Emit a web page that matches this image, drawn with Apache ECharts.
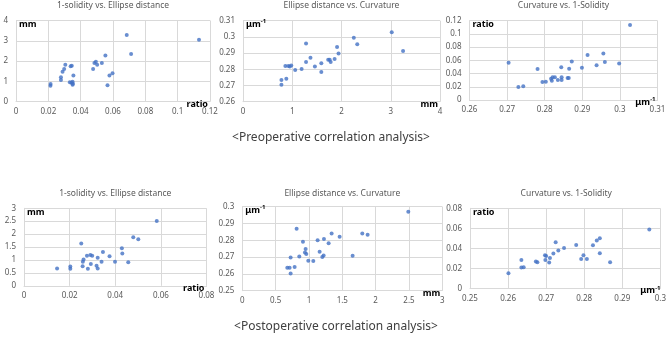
<!DOCTYPE html>
<html><head><meta charset="utf-8">
<script src="https://cdn.jsdelivr.net/npm/echarts@6/dist/echarts.min.js"></script>
<style>html,body{margin:0;padding:0;background:#fff}#c{width:669px;height:339px}</style>
</head><body><div id="c"></div><script>
// ---- Data ----
// Preoperative
const preSolidityVsEllipse = [[0.0214,0.87],[0.0213,0.78],[0.0278,1.20],[0.0278,1.06],[0.0288,1.47],[0.0298,1.60],[0.0305,1.82],[0.0338,1.74],[0.0345,1.77],[0.0333,0.95],[0.0343,0.93],[0.0350,0.97],[0.0352,0.88],[0.0350,0.83],[0.0355,1.28],[0.0477,1.60],[0.0485,1.90],[0.0494,1.96],[0.0502,1.82],[0.0531,1.90],[0.0553,2.27],[0.0566,0.80],[0.0578,1.29],[0.0597,1.39],[0.0685,3.28],[0.0712,2.35],[0.1132,3.05]];
const preEllipseVsCurvature = [[0.78,0.2734],[0.78,0.2705],[0.88,0.2742],[0.86,0.2820],[0.92,0.2820],[0.95,0.2817],[0.98,0.2824],[1.06,0.2795],[1.19,0.2802],[1.28,0.2845],[1.28,0.2960],[1.37,0.2872],[1.46,0.2818],[1.59,0.2837],[1.59,0.2783],[1.73,0.2859],[1.76,0.2859],[1.78,0.2845],[1.86,0.2863],[1.91,0.2937],[1.94,0.2898],[2.25,0.2995],[2.32,0.2954],[3.02,0.3028],[3.25,0.2913]];
const preCurvatureVsSolidity = [[0.2704,0.0564],[0.2730,0.0196],[0.2743,0.0207],[0.2781,0.0469],[0.2794,0.0272],[0.2803,0.0277],[0.2817,0.0322],[0.2821,0.0343],[0.2827,0.0343],[0.2819,0.0292],[0.2835,0.0302],[0.2844,0.0494],[0.2845,0.0343],[0.2845,0.0302],[0.2861,0.0332],[0.2864,0.0332],[0.2865,0.0474],[0.2872,0.0584],[0.2899,0.0489],[0.2914,0.0680],[0.2938,0.0524],[0.2956,0.0705],[0.2960,0.0574],[0.2998,0.0554],[0.3027,0.1134]];
// Postoperative
const postSolidityVsEllipse = [[0.0145,0.67],[0.0203,0.75],[0.0203,0.66],[0.0251,1.64],[0.0258,0.93],[0.0261,1.02],[0.0257,0.76],[0.0276,1.16],[0.0280,0.66],[0.0291,1.19],[0.0299,1.16],[0.0293,0.84],[0.0318,0.78],[0.0323,1.09],[0.0323,0.67],[0.0340,0.93],[0.0346,1.31],[0.0375,1.14],[0.0399,0.93],[0.0429,1.45],[0.0431,1.25],[0.0457,0.91],[0.0479,1.88],[0.0501,1.80],[0.0582,2.51]];
const postEllipseVsCurvature = [[0.675,0.2637],[0.71,0.2637],[0.725,0.2603],[0.725,0.2698],[0.785,0.2641],[0.815,0.2869],[0.855,0.2704],[0.91,0.2792],[0.95,0.2748],[0.94,0.2728],[0.96,0.2718],[0.99,0.2679],[1.065,0.2677],[1.13,0.2800],[1.16,0.2732],[1.20,0.2700],[1.22,0.2710],[1.225,0.2808],[1.295,0.2782],[1.34,0.2841],[1.46,0.2821],[1.655,0.2708],[1.80,0.2841],[1.88,0.2833],[2.49,0.2970]];
const postCurvatureVsSolidity = [[0.2601,0.0150],[0.2635,0.0283],[0.2635,0.0207],[0.2641,0.0210],[0.2673,0.0267],[0.2677,0.0260],[0.2697,0.0330],[0.2700,0.0323],[0.2698,0.0283],[0.2708,0.0257],[0.2710,0.0303],[0.2719,0.0347],[0.2725,0.0460],[0.2732,0.0377],[0.2747,0.0403],[0.2779,0.0433],[0.2792,0.0293],[0.2798,0.0330],[0.2807,0.0293],[0.2823,0.0430],[0.2833,0.0477],[0.2841,0.0500],[0.2841,0.0350],[0.2868,0.0260],[0.2971,0.0587]];

const chartTitles = ["1-solidity vs. Ellipse distance","Ellipse distance vs. Curvature","Curvature vs. 1-Solidity","1-solidity vs. Ellipse distance","Ellipse distance vs. Curvature","Curvature vs. 1-Solidity"];
const captions = ["<Preoperative correlation analysis>","<Postoperative correlation analysis>"];
// axis ranges [min, max, interval]
const xRanges = [[0,0.12,0.02],[0,4,1],[0.26,0.31,0.01],[0,0.08,0.02],[0,3,0.5],[0.25,0.30,0.01]];
const yRanges = [[0,4,1],[0.26,0.31,0.01],[0,0.12,0.02],[0,3,0.5],[0.25,0.30,0.01],[0,0.08,0.02]];
const yUnits = ["mm","μm-1","ratio","mm","μm-1","ratio"];
const xUnits = ["ratio","mm","μm-1","ratio","mm","μm-1"];
const seriesData = [preSolidityVsEllipse,preEllipseVsCurvature,preCurvatureVsSolidity,postSolidityVsEllipse,postEllipseVsCurvature,postCurvatureVsSolidity];

// ---- Layout ----
const grids = [
  {left:16, top:20.5, width:194, height:81},
  {left:243, top:20.7, width:197, height:81},
  {left:469.5, top:20.7, width:188, height:79.3},
  {left:24, top:208.3, width:182.5, height:77.5},
  {left:242.3, top:206.7, width:200, height:84},
  {left:470, top:208.3, width:192.5, height:80}
];
const FONT = '"Noto Sans", "Open Sans", sans-serif';
const gridColor = '#d9d9d9';
const labelColor = '#595959';

function fmt(v){ return String(parseFloat(v.toFixed(4))); }

const option = {
  backgroundColor:'#fff',
  animation:false,
  grid: grids.map(g => Object.assign({containLabel:false}, g)),
  xAxis: xRanges.map((r,i)=>({
    gridIndex:i, type:'value', min:r[0], max:r[1], interval:r[2],
    axisLine:{show:true, lineStyle:{color:gridColor}},
    axisTick:{show:false},
    splitLine:{show:true, lineStyle:{color:gridColor}},
    axisLabel:{color:labelColor, fontSize:8, fontFamily:FONT, margin:6, formatter:fmt, showMinLabel:true, showMaxLabel:true}
  })),
  yAxis: yRanges.map((r,i)=>({
    gridIndex:i, type:'value', min:r[0], max:r[1], interval:r[2],
    axisLine:{show:true, lineStyle:{color:gridColor}},
    axisTick:{show:false},
    splitLine:{show:true, lineStyle:{color:gridColor}},
    axisLabel:{color:labelColor, fontSize:8, fontFamily:FONT, margin:8, formatter:fmt, showMinLabel:true, showMaxLabel:true}
  })),
  series: seriesData.map((d,i)=>({
    type:'scatter', xAxisIndex:i, yAxisIndex:i, data:d,
    symbol:'circle', symbolSize:4,
    itemStyle:{color:'#4472C4'}
  })),
  graphic: []
};

function unitText(u, x, y, align){
  const isMu = u === 'μm-1';
  return {
    type:'text', x:x, y:y, z:100,
    style:{
      text: isMu ? '{b|μm}{s|-1}' : '{b|'+u+'}',
      align: align, verticalAlign:'middle',
      rich:{
        b:{fontSize:9, fontWeight:'bold', fill:'#000', fontFamily:FONT},
        s:{fontSize:6, fontWeight:'bold', fill:'#000', fontFamily:FONT, padding:[0,0,6,0]}
      }
    }
  };
}

grids.forEach((g,i)=>{
  option.graphic.push({type:'text', x:g.left + g.width/2, y:(i<3?6:194), style:{text:chartTitles[i], fill:labelColor, fontSize:8.5, fontFamily:FONT, align:'center', verticalAlign:'middle'}});
  option.graphic.push(unitText(yUnits[i], g.left+3, g.top+4, 'left'));
  option.graphic.push(unitText(xUnits[i], g.left+g.width-2, g.top+g.height+2.5, 'right'));
});
option.graphic.push({type:'text', x:331, y:138, style:{text:captions[0], fill:'#404040', fontSize:12, fontFamily:FONT, align:'center', verticalAlign:'middle'}});
option.graphic.push({type:'text', x:336, y:327, style:{text:captions[1], fill:'#404040', fontSize:12, fontFamily:FONT, align:'center', verticalAlign:'middle'}});

const chart = echarts.init(document.getElementById('c'), null, {renderer:'canvas'});
chart.setOption(option);
</script></body></html>
